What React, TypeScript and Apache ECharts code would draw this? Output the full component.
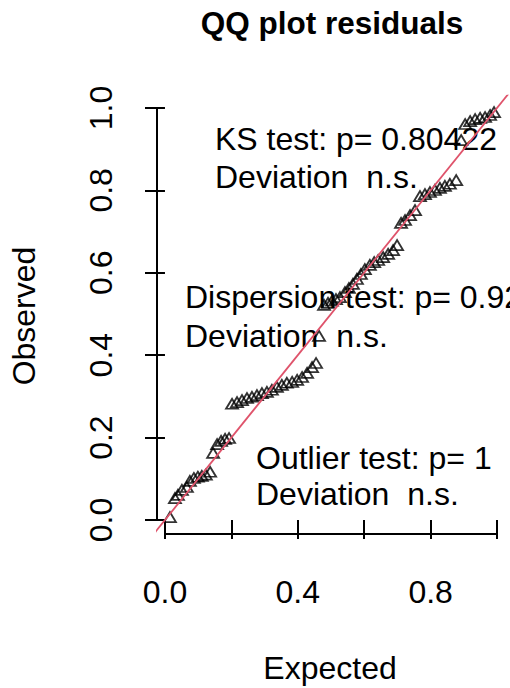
import React, { useEffect, useRef } from "react";
import * as echarts from "echarts";

// Expected (uniform quantiles) and observed scaled residuals
const expected = [
  0.015, 0.03, 0.039, 0.051, 0.066, 0.075, 0.087, 0.099, 0.111, 0.123, 0.136, 0.145, 0.157, 0.169, 0.181, 0.193,
  0.202, 0.217, 0.232, 0.247, 0.262, 0.277, 0.292, 0.307, 0.322, 0.337, 0.352, 0.367, 0.383, 0.398, 0.413, 0.428,
  0.443, 0.455, 0.464, 0.479, 0.491, 0.503, 0.515, 0.527, 0.542, 0.554, 0.566, 0.578, 0.59, 0.602, 0.617, 0.63,
  0.642, 0.657, 0.672, 0.687, 0.699, 0.711, 0.723, 0.738, 0.753, 0.768, 0.783, 0.798, 0.813, 0.828, 0.843, 0.858,
  0.877, 0.892, 0.904, 0.919, 0.934, 0.949, 0.964, 0.979, 0.991,
];
const observed = [
  0.007, 0.053, 0.061, 0.073, 0.08, 0.095, 0.102, 0.105, 0.107, 0.11, 0.117, 0.163, 0.184, 0.192, 0.197, 0.199,
  0.282, 0.286, 0.291, 0.296, 0.299, 0.303, 0.308, 0.311, 0.316, 0.323, 0.328, 0.333, 0.335, 0.34, 0.347, 0.357,
  0.371, 0.381, 0.447, 0.522, 0.527, 0.532, 0.536, 0.541, 0.553, 0.563, 0.573, 0.585, 0.597, 0.609, 0.619, 0.626,
  0.631, 0.638, 0.646, 0.655, 0.667, 0.721, 0.728, 0.74, 0.752, 0.786, 0.791, 0.796, 0.801, 0.806, 0.811, 0.816,
  0.825, 0.922, 0.961, 0.968, 0.973, 0.976, 0.978, 0.983, 0.99,
];

const xTicks = [0, 0.2, 0.4, 0.6, 0.8, 1.0];
const xTickLabels = [0, 0.4, 0.8];
const yTicks = [0, 0.2, 0.4, 0.6, 0.8, 1.0];
const yTickLabels = [0, 0.2, 0.4, 0.6, 0.8, 1.0];

const titleText = "QQ plot residuals";
const xTitle = "Expected";
const yTitle = "Observed";
const ksLines = ["KS test: p= 0.80422", "Deviation  n.s."];
const dispLines = ["Dispersion test: p= 0.92", "Deviation  n.s."];
const outLines = ["Outlier test: p= 1", "Deviation  n.s."];

const X_MIN = -0.024;
const X_MAX = 1.03;
const Y_MIN = -0.034;
const Y_MAX = 1.03;

const FONT = "'Liberation Sans', Arial, Helvetica, sans-serif";
const FS = 32;

function textEl(text: string, x: number, y: number, opts: any = {}) {
  return {
    type: "text",
    x,
    y,
    rotation: opts.rotation || 0,
    silent: true,
    style: {
      text,
      fill: "#000",
      fontSize: opts.size || FS,
      fontFamily: FONT,
      fontWeight: opts.bold ? "bold" : "normal",
      align: opts.align || "left",
      verticalAlign: "middle",
    },
  };
}

export default function App() {
  const ref = useRef<HTMLDivElement>(null);
  useEffect(() => {
    const chart = echarts.init(ref.current!, null, { renderer: "svg" });
    const points = expected.map((x, i) => [x, observed[i]]);
    const option: any = {
      animation: false,
      backgroundColor: "#fff",
      grid: { left: 157, top: 95.6, width: 350, height: 438.4, containLabel: false },
      xAxis: {
        type: "value",
        min: X_MIN,
        max: X_MAX,
        axisLine: { show: false },
        splitLine: { show: false },
        axisTick: { show: true, customValues: xTicks, length: 19, lineStyle: { color: "#000", width: 2 } },
        axisLabel: {
          customValues: xTickLabels,
          formatter: (v: number) => v.toFixed(1),
          fontSize: FS,
          fontFamily: FONT,
          color: "#000",
          margin: 42,
        },
      },
      yAxis: {
        type: "value",
        min: Y_MIN,
        max: Y_MAX,
        axisLine: { show: false },
        splitLine: { show: false },
        axisTick: { show: true, customValues: yTicks, length: 20, lineStyle: { color: "#000", width: 2 } },
        axisLabel: {
          customValues: yTickLabels,
          formatter: (v: number) => v.toFixed(1),
          fontSize: FS,
          fontFamily: FONT,
          color: "#000",
          rotate: 90,
          margin: 40,
        },
      },
      series: [
        {
          type: "scatter",
          data: points,
          symbol: "triangle",
          symbolSize: [12, 10],
          itemStyle: { color: "rgba(0,0,0,0)", borderColor: "#000", borderWidth: 1.8 },
          z: 2,
        },
        {
          type: "line",
          data: [[-0.2, -0.2], [1.2, 1.2]],
          symbol: "none",
          clip: true,
          lineStyle: { color: "#DF536B", width: 1.8 },
          z: 3,
          silent: true,
        },
        {
          type: "line",
          data: [[xTicks[0], Y_MIN], [xTicks[xTicks.length - 1], Y_MIN]],
          symbol: "none",
          clip: false,
          lineStyle: { color: "#000", width: 2 },
          z: 4,
          silent: true,
        },
        {
          type: "line",
          data: [[X_MIN, yTicks[0]], [X_MIN, yTicks[yTicks.length - 1]]],
          symbol: "none",
          clip: false,
          lineStyle: { color: "#000", width: 2 },
          z: 4,
          silent: true,
        },
      ],
      graphic: [
        textEl(titleText, 332, 23, { bold: true, align: "center", size: 31.5 }),
        textEl(xTitle, 330, 668, { align: "center" }),
        textEl(yTitle, 24, 316, { align: "center", rotation: Math.PI / 2 }),
        textEl(ksLines[0], 215, 139),
        textEl(ksLines[1], 215, 177),
        textEl(dispLines[0], 185, 297),
        textEl(dispLines[1], 185, 336),
        textEl(outLines[0], 256, 458),
        textEl(outLines[1], 256, 494),
      ],
    };
    chart.setOption(option);
    return () => chart.dispose();
  }, []);
  return (
    <div
      ref={ref}
      style={{ position: "fixed", left: 0, top: 0, width: 510, height: 688, background: "#fff" }}
    />
  );
}
